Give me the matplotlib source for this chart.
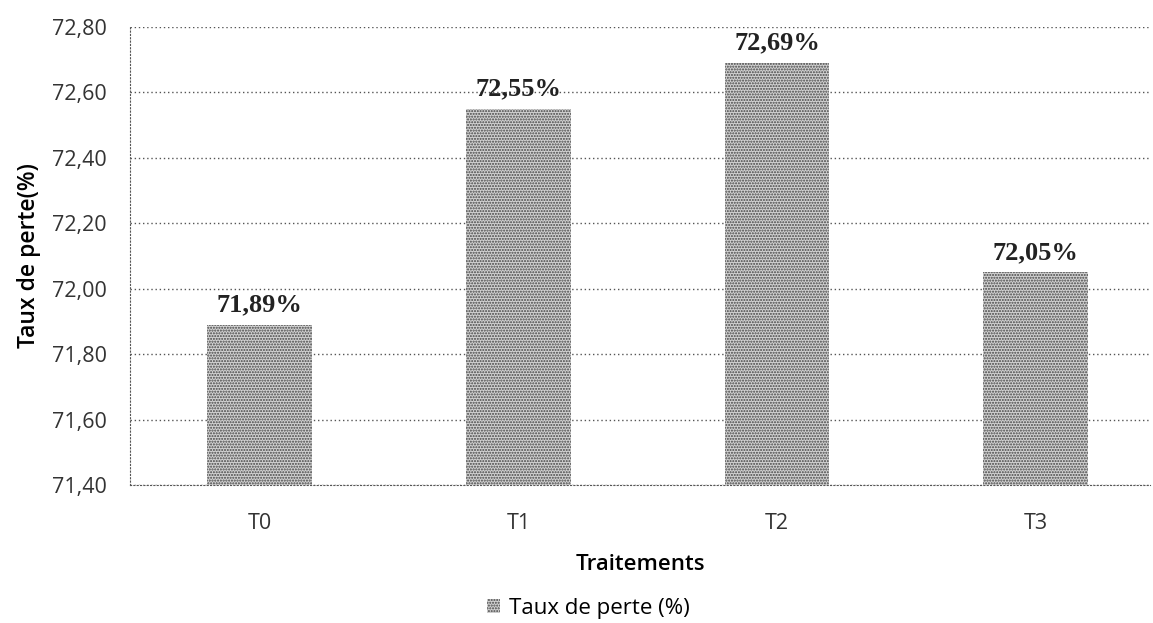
import matplotlib.pyplot as plt
import numpy as np

traitements = ["T0", "T1", "T2", "T3"]
taux_perte = [71.89, 72.55, 72.69, 72.05]
yticks = [71.40, 71.60, 71.80, 72.00, 72.20, 72.40, 72.60, 72.80]

plt.rcParams['font.family'] = ['Open Sans', 'DejaVu Sans']
plt.rcParams['hatch.linewidth'] = 1.0

fig = plt.figure(figsize=(11.53, 6.23), dpi=100)
ax = fig.add_axes([0.113, 0.221, 0.884, 0.736])

x = np.arange(len(traitements))
bars = ax.bar(x, taux_perte, width=0.405, color='#d2d2d2',
              hatch='......', edgecolor='#444444', linewidth=0,
              label="Taux de perte (%)")

for xi, v in zip(x, taux_perte):
    ax.text(xi, v + 0.025, f"{v:.2f}%".replace(".", ","), ha='center', va='bottom',
            fontsize=19, fontweight='bold', family='Liberation Serif', color='#222222')

ax.set_ylim(71.40, 72.80)
ax.set_xlim(-0.5, 3.44)
ax.set_yticks(yticks)
ax.set_yticklabels([f"{t:.2f}".replace(".", ",") for t in yticks])
ax.set_xticks(x)
ax.set_xticklabels(traitements)
ax.tick_params(axis='both', length=0, labelsize=15.5, colors='#333333')
ax.tick_params(axis='y', pad=17)
ax.tick_params(axis='x', pad=20)

ax.grid(axis='y', linestyle=(0, (1, 2)), color='#555555', linewidth=1)
ax.set_axisbelow(True)
for s in ['top', 'right']:
    ax.spines[s].set_visible(False)
ax.spines['left'].set_linestyle((0, (1, 2)))
ax.spines['left'].set_color('#555555')
ax.spines['bottom'].set_linestyle((0, (1, 2)))
ax.spines['bottom'].set_color('#555555')

ax.set_ylabel("Taux de perte(%)", fontsize=16.5, fontweight='semibold')
ax.yaxis.set_label_coords(-0.088, 0.5)
ax.set_xlabel("Traitements", fontsize=16, fontweight='semibold', labelpad=14)

fig.legend(loc='lower center', bbox_to_anchor=(0.51, -0.025), frameon=False,
           fontsize=16, handlelength=0.6, handleheight=0.6, handletextpad=0.4)

fig.savefig("out.png", dpi=100)
